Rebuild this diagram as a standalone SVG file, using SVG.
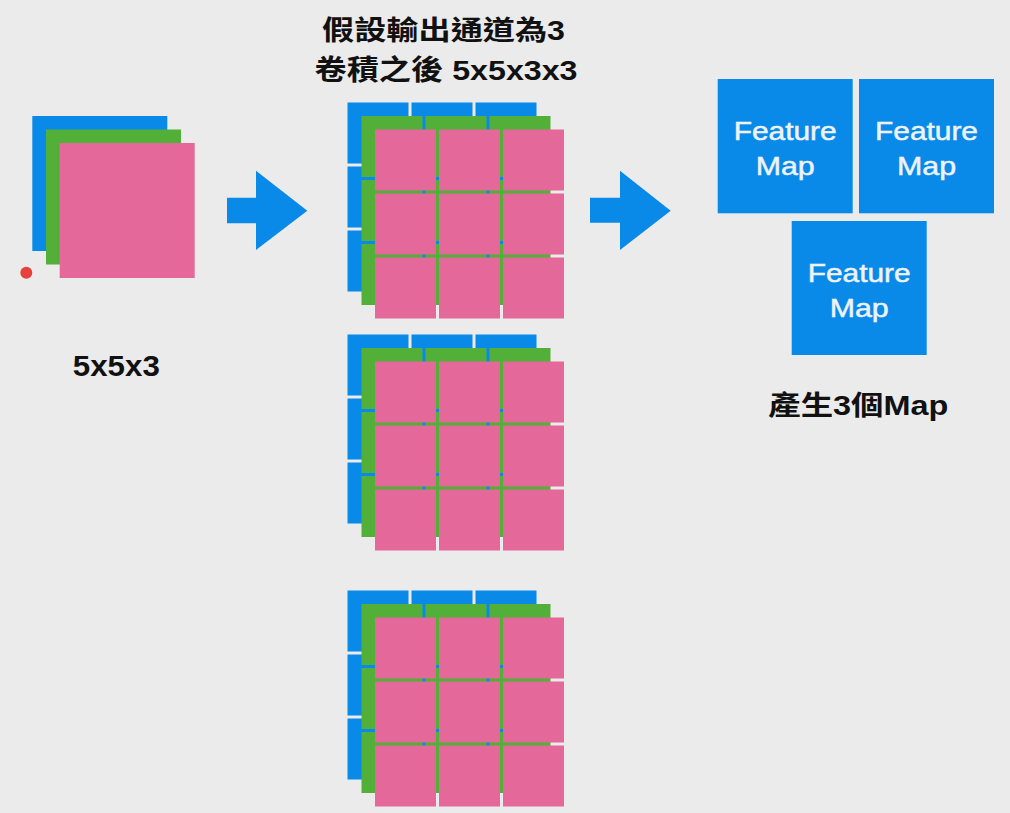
<svg xmlns="http://www.w3.org/2000/svg" xmlns:xlink="http://www.w3.org/1999/xlink" width="1010" height="813" viewBox="0 0 1010 813">
<style>
.bg{fill:#ebebeb}
.blue{fill:#0a8ae8}
.green{fill:#52b038}
.pink{fill:#e4699a}
.arrow{fill:#0a8ae8}
.lbl{font-family:"Liberation Sans","Noto Sans CJK TC",sans-serif;font-weight:bold;fill:#111111;text-anchor:middle}
.fm{font-family:"Liberation Sans","Noto Sans",sans-serif;fill:#eef3f8;stroke:#eef3f8;stroke-width:0.5;text-anchor:middle;font-size:26px}
</style>
<defs>
<g id="layer">
<rect x="0" y="0" width="61" height="61"/><rect x="64" y="0" width="61" height="61"/><rect x="128" y="0" width="61" height="61"/>
<rect x="0" y="64" width="61" height="61"/><rect x="64" y="64" width="61" height="61"/><rect x="128" y="64" width="61" height="61"/>
<rect x="0" y="128" width="61" height="61"/><rect x="64" y="128" width="61" height="61"/><rect x="128" y="128" width="61" height="61"/>
</g>
<g id="kernel">
<use xlink:href="#layer" href="#layer" class="blue" x="0" y="0"/>
<use xlink:href="#layer" href="#layer" class="green" x="14" y="13.5"/>
<use xlink:href="#layer" href="#layer" class="pink" x="27.5" y="27"/>
</g>
</defs>
<rect class="bg" x="0" y="0" width="1010" height="813"/>

<g id="title">
<text class="lbl" x="443.5" y="39.5" font-size="27" textLength="243" lengthAdjust="spacingAndGlyphs">假設輸出通道為3</text>
<text class="lbl" x="446" y="80" font-size="28" textLength="263" lengthAdjust="spacingAndGlyphs">卷積之後 5x5x3x3</text>
</g>

<g id="input">
<rect class="blue" x="32.3" y="116" width="135" height="135"/>
<rect class="green" x="46" y="129.5" width="135" height="135"/>
<rect class="pink" x="59.7" y="143" width="135" height="135"/>
<circle cx="26.3" cy="272.7" r="6" fill="#e8403a"/>
<text class="lbl" x="116.3" y="376" font-size="30" textLength="87" lengthAdjust="spacingAndGlyphs">5x5x3</text>
</g>

<g id="kernel1"><use xlink:href="#kernel" href="#kernel" x="347.5" y="102.5"/></g>
<g id="kernel2"><use xlink:href="#kernel" href="#kernel" x="347.5" y="334.5"/></g>
<g id="kernel3"><use xlink:href="#kernel" href="#kernel" x="347.5" y="590.5"/></g>

<g id="featuremap1">
<rect class="blue" x="717.7" y="79" width="135" height="134.3"/>
<text class="fm" x="785.2" y="140" textLength="103" lengthAdjust="spacingAndGlyphs">Feature</text>
<text class="fm" x="785.2" y="175" textLength="59" lengthAdjust="spacingAndGlyphs">Map</text>
</g>
<g id="featuremap2">
<rect class="blue" x="859" y="79" width="135" height="134.3"/>
<text class="fm" x="926.5" y="140" textLength="103" lengthAdjust="spacingAndGlyphs">Feature</text>
<text class="fm" x="926.5" y="175" textLength="59" lengthAdjust="spacingAndGlyphs">Map</text>
</g>
<g id="featuremap3">
<rect class="blue" x="791.7" y="221" width="135" height="134"/>
<text class="fm" x="859.2" y="281.7" textLength="103" lengthAdjust="spacingAndGlyphs">Feature</text>
<text class="fm" x="859.2" y="316.7" textLength="59" lengthAdjust="spacingAndGlyphs">Map</text>
</g>
<g id="output-label">
<text class="lbl" x="858.3" y="415" font-size="27" textLength="180" lengthAdjust="spacingAndGlyphs">產生3個Map</text>
</g>

<g id="connectors">
<polygon class="arrow" points="227,197.7 256,197.7 256,170.7 307.3,210.7 256,250 256,223.3 227,223.3"/>
<polygon class="arrow" points="590,197.7 620,197.7 620,170.7 670.7,210.7 620,250 620,222.7 590,222.7"/>
</g>
</svg>
